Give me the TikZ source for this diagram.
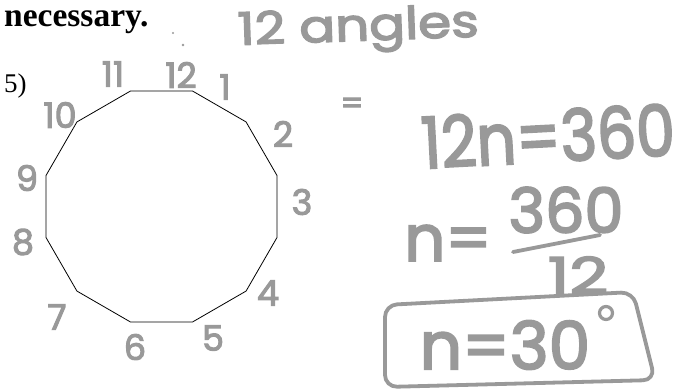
\documentclass[tikz,border=0pt]{standalone}
\usepackage{fontspec}
\usepackage{graphicx}
\usetikzlibrary{calc}
\setmainfont{Liberation Serif}
\newfontfamily\hand[FakeBold=3]{Poppins}
\definecolor{pencil}{gray}{0.6}
\tikzset{
  hw/.style={inner sep=0pt, text=pencil, font=\hand},
  hwline/.style={draw=pencil, line width=3.8pt, line cap=round, line join=round},
  poly/.style={draw=black, line width=0.8pt, line join=miter},
}
\newcommand{\fs}[1]{\fontsize{#1}{#1}\selectfont}
\begin{document}
\begin{tikzpicture}[x=1pt,y=-1pt]
\useasboundingbox[fill=white] (0,0) rectangle (678,391);
% printed text
\node[anchor=base west, inner sep=0pt, font=\bfseries\fs{33.5}] (nec) at (4,26) {necessary.};
\node[anchor=base west, inner sep=0pt, font=\fs{27}] (num) at (4,92) {5)};
% dodecagon
\coordinate (c) at (161.5,206.5);
\draw[poly] ($(c)+(15:119.6)$)
  \foreach \a in {45,75,...,345} { -- ($(c)+(\a:119.6)$) } -- cycle;
% specks
\fill[pencil] (173,33) circle (1.2pt);
\fill[pencil] (183,45) circle (1.4pt);
% labels around polygon
\begin{scope}[every node/.style={hw, font=\hand\fs{35}}]
\node (l12) at (181,75) {12};
\node (l11) at (113,74) {11};
\node (l1) at (225,87) {1};
\node (l10) at (60,115) {10};
\node (l2) at (283,134) {2};
\node (l3) at (302,202) {3};
\node (l4) at (268,293) {4};
\node (l5) at (213,338) {5};
\node (l6) at (135,347) {6};
\node (l7) at (57,317) {7};
\node (l8) at (23,242) {8};
\node (l9) at (27,178) {9};
\end{scope}
% handwritten work
\node[hw, anchor=base west, font=\hand\fs{45}, rotate=2] (ang) at (238,45) {\scalebox{1.18}[1]{12 angles}};
\node[hw, font=\hand\fs{32}] (eq) at (352,106) {=};
\node[hw, font=\hand\fs{71}, rotate=3] (l1eq) at (548,136) {\scalebox{0.87}[1]{12n=360}};
\node[hw, font=\hand\fs{64}] (n2) at (448,243) {n=};
\node[hw, font=\hand\fs{62}] (num360) at (566,210) {360};
\coordinate (barl) at (513,252);
\coordinate (barr) at (600,235);
\draw[hwline] (barl) -- (barr);
\node[hw, font=\hand\fs{50}] (den12) at (578,275) {\scalebox{1.35}[1]{12}};
% box answer
\coordinate (b1) at (385,305);
\coordinate (b2) at (633,292);
\coordinate (b3) at (655,380);
\coordinate (b4) at (385,387);
\draw[hwline, rounded corners=12pt] (b1) -- (b2) -- (b3) -- (b4) -- cycle;
\node[hw, font=\hand\fs{66}] (ans) at (505,345) {n=30};
\node[draw=pencil, line width=3.2pt, circle, minimum size=13pt, inner sep=0pt] (deg) at (606,313) {};
\end{tikzpicture}
\end{document}
